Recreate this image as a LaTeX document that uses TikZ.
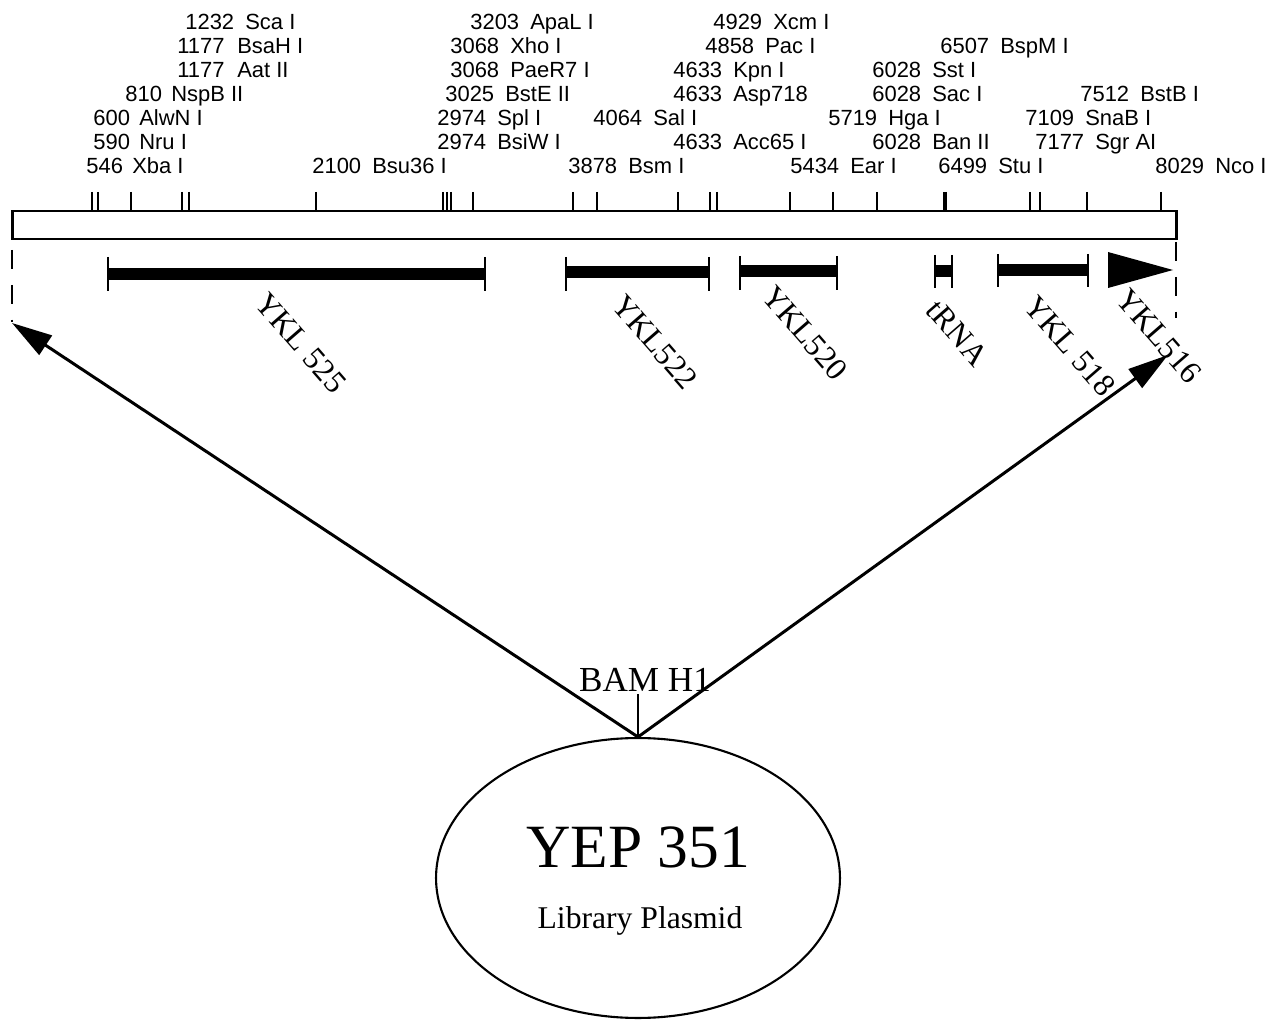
\documentclass[tikz,border=0pt]{standalone}
\usepackage{fontspec}
\setmainfont{Liberation Serif}
\newfontfamily\helv{Liberation Sans}
\usetikzlibrary{shapes.geometric,arrows.meta}
\tikzset{
  site/.style={anchor=base west, inner sep=0pt, font=\helv\fontsize{12.5}{14}\selectfont},
  cuttick/.style={line width=1.3pt},
  genebar/.style={line width=6.8pt},
  geneend/.style={line width=1.4pt},
  genelabel/.style={rotate=-49, inner sep=0pt, font=\fontsize{18}{20}\selectfont},
  mapbox/.style={draw, line width=1.7pt, inner sep=0pt, minimum width=23.3cm, minimum height=0.56cm},
  guide/.style={line width=1.2pt, dash pattern=on 10.8pt off 9pt},
  insert/.style={line width=1.7pt, -{Triangle[length=23pt,width=13pt]}},
}
\newcommand\rsite[6]{\node[site] (#1) at (#2,#3) {\makebox[#4][l]{#5}#6};}
\begin{document}
\begin{tikzpicture}[x=0.02cm,y=-0.02cm]
\useasboundingbox (0,0) rectangle (1269,1027);
% restriction sites
\rsite{sSca}{185}{30}{1.2cm}{1232}{Sca I}
\rsite{sApaL}{470}{30}{1.2cm}{3203}{ApaL I}
\rsite{sXcm}{713}{30}{1.2cm}{4929}{Xcm I}
\rsite{sBsaH}{177}{54}{1.2cm}{1177}{BsaH I}
\rsite{sXho}{450}{54}{1.2cm}{3068}{Xho I}
\rsite{sPac}{705}{54}{1.2cm}{4858}{Pac I}
\rsite{sBspM}{940}{54}{1.2cm}{6507}{BspM I}
\rsite{sAat}{177}{78}{1.2cm}{1177}{Aat II}
\rsite{sPaeR}{450}{78}{1.2cm}{3068}{PaeR7 I}
\rsite{sKpn}{673}{78}{1.2cm}{4633}{Kpn I}
\rsite{sSst}{872}{78}{1.2cm}{6028}{Sst I}
\rsite{sNspB}{125}{102}{0.92cm}{810}{NspB II}
\rsite{sBstE}{445}{102}{1.2cm}{3025}{BstE II}
\rsite{sAsp}{673}{102}{1.2cm}{4633}{Asp718}
\rsite{sSac}{872}{102}{1.2cm}{6028}{Sac I}
\rsite{sBstB}{1080}{102}{1.2cm}{7512}{BstB I}
\rsite{sAlwN}{93}{126}{0.92cm}{600}{AlwN I}
\rsite{sSpl}{437}{126}{1.2cm}{2974}{Spl I}
\rsite{sSal}{593}{126}{1.2cm}{4064}{Sal I}
\rsite{sHga}{828}{126}{1.2cm}{5719}{Hga I}
\rsite{sSnaB}{1025}{126}{1.2cm}{7109}{SnaB I}
\rsite{sNru}{93}{150}{0.92cm}{590}{Nru I}
\rsite{sBsiW}{437}{150}{1.2cm}{2974}{BsiW I}
\rsite{sAcc}{673}{150}{1.2cm}{4633}{Acc65 I}
\rsite{sBan}{872}{150}{1.2cm}{6028}{Ban II}
\rsite{sSgr}{1035}{150}{1.2cm}{7177}{Sgr AI}
\rsite{sXba}{86}{174}{0.92cm}{546}{Xba I}
\rsite{sBsu}{312}{174}{1.2cm}{2100}{Bsu36 I}
\rsite{sBsm}{568}{174}{1.2cm}{3878}{Bsm I}
\rsite{sEar}{790}{174}{1.2cm}{5434}{Ear I}
\rsite{sStu}{938}{174}{1.2cm}{6499}{Stu I}
\rsite{sNco}{1155}{174}{1.2cm}{8029}{Nco I}
% ticks
\foreach \t in {92,98,131,182,189,316,443,447,451,473,573,597,678,710,717,790,833,877,1030,1040,1087,1161}
  \draw[cuttick] (\t,192) -- (\t,211);
\draw[line width=2.6pt] (945,192) -- (945,211);
% map bar
\node[mapbox] (map) at (594.5,225) {};
% genes
\draw[genebar] (108,274) -- (485,274);
\draw[geneend] (108,257) -- (108,291) (485,257) -- (485,291);
\draw[genebar] (566,272) -- (709,272);
\draw[geneend] (566,257) -- (566,291) (709,257) -- (709,291);
\draw[genebar] (740,271) -- (837,271);
\draw[geneend] (740,256) -- (740,290) (837,256) -- (837,290);
\draw[genebar] (935,271) -- (952,271);
\draw[geneend] (935,255) -- (935,288) (952,255) -- (952,288);
\draw[genebar] (998,270) -- (1088,270);
\draw[geneend] (998,254) -- (998,287) (1088,254) -- (1088,287);
\fill (1108,252) -- (1108,288) -- (1173,270) -- cycle;
% gene labels
\node[genelabel] (g525) at (301,343) {YKL 525};
\node[genelabel] (g522) at (655,342) {YKL522};
\node[genelabel] (g520) at (805,333) {YKL520};
\node[genelabel] (gtrna) at (957,333) {tRNA};
\node[genelabel] (g518) at (1070,346) {YKL 518};
\node[genelabel] (g516) at (1159,336) {YKL516};
% plasmid
\node[draw, ellipse, line width=1.2pt, inner sep=0pt, minimum width=8.08cm, minimum height=5.6cm] (plasmid) at (638,878) {};
\node[anchor=base, inner sep=0pt, font=\fontsize{35}{40}\selectfont] (yep) at (638,867) {YEP 351};
\node[anchor=base, inner sep=0pt, font=\fontsize{18}{20}\selectfont] (lib) at (640,928) {Library Plasmid};
\node[anchor=base, inner sep=0pt, font=\fontsize{20}{22}\selectfont] (bam) at (645,691) {BAM H1};
\coordinate (bamtop) at (638,694);
\draw[line width=0.9pt] (bamtop) -- (plasmid.north);
% insert arrows
\coordinate (lefttip) at (12,323);
\coordinate (righttip) at (1168,355);
\draw[insert] (plasmid.north) -- (lefttip);
\draw[insert] (plasmid.north) -- (righttip);
% guides
\coordinate (dl) at (12,250);
\coordinate (dr) at (1176,242);
\draw[guide] (dl) -- (12,322);
\draw[guide] (dr) -- (1176,318);
\end{tikzpicture}
\end{document}
